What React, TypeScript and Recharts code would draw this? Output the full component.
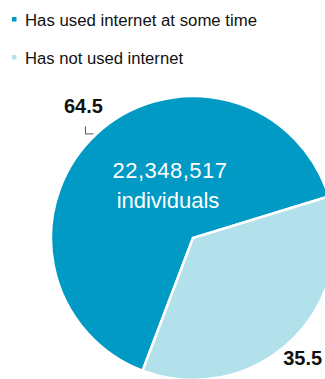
import React from "react";
import { PieChart, Pie, Cell } from "recharts";

const categories = ["Has used internet at some time", "Has not used internet"];
const shares = [64.5, 35.5];
const shareLabels = ["64.5", "35.5"];
const colors = ["#009AC5", "#B2E0EB"];
const centerLines = ["22,348,517", "individuals"];

const data = categories.map((name, i) => ({ name, value: shares[i], label: shareLabels[i] }));

const RAD = Math.PI / 180;
const FONT = "'Liberation Sans', Arial, sans-serif";
const legendWidths = [232, 158];

const renderLabel = (props: any) => {
  const { cx, cy, midAngle, outerRadius, index } = props;
  const extra = index === 0 ? 30 : 20;
  const r = outerRadius + extra;
  let x = cx + r * Math.cos(-midAngle * RAD);
  let y = cy + r * Math.sin(-midAngle * RAD);
  if (index === 0) {
    x += 8;
    y -= 6;
  } else {
    x -= 1;
    y += 2;
  }
  return (
    <g key={`lbl-${index}`}>
      <text
        x={x}
        y={y}
        textAnchor="middle"
        dominantBaseline="central"
        fontFamily={FONT}
        fontWeight="bold"
        fontSize={20}
        fill="#111"
      >
        {data[index].label}
      </text>
      {index === 0 && (
        <>
          <path
            d={`M${x + 2},${y + 20} L${x + 2},${y + 27.5} L${x + 10},${y + 27.5}`}
            stroke="#555"
            strokeWidth={1}
            fill="none"
          />
          <text
            x={cx - 23}
            y={cy - 60}
            textAnchor="middle"
            fontFamily={FONT}
            fontSize={22}
            letterSpacing={0.5}
            fill="#ffffff"
          >
            {centerLines[0]}
          </text>
          <text
            x={cx - 25}
            y={cy - 30}
            textAnchor="middle"
            fontFamily={FONT}
            fontSize={22}
            fill="#ffffff"
          >
            {centerLines[1]}
          </text>
        </>
      )}
    </g>
  );
};

export default function App() {
  return (
    <div style={{ position: "absolute", left: 0, top: 0, width: 325, height: 379, background: "#fff" }}>
      <PieChart width={325} height={379} margin={{ top: 0, right: 0, bottom: 0, left: 0 }} style={{ position: "absolute", left: 0, top: 0 }}>
        <Pie
          data={data}
          dataKey="value"
          nameKey="name"
          cx={193}
          cy={238}
          outerRadius={142}
          startAngle={17}
          endAngle={377}
          stroke="#ffffff"
          strokeWidth={2.5}
          label={renderLabel}
          labelLine={false}
          isAnimationActive={false}
        >
          {data.map((d, i) => (
            <Cell key={d.name} fill={colors[i]} />
          ))}
        </Pie>
      </PieChart>
      <svg width={325} height={80} style={{ position: "absolute", left: 0, top: 0 }}>
        {categories.map((c, i) => (
          <g key={c}>
            <rect x={12} y={i === 0 ? 17 : 55} width={4.5} height={4.5} fill={colors[i]} />
            <text
              x={25}
              y={i === 0 ? 26 : 64}
              fontFamily={FONT}
              fontSize={16}
              textLength={legendWidths[i]}
              lengthAdjust="spacingAndGlyphs"
              fill="#111"
            >
              {c}
            </text>
          </g>
        ))}
      </svg>
    </div>
  );
}
